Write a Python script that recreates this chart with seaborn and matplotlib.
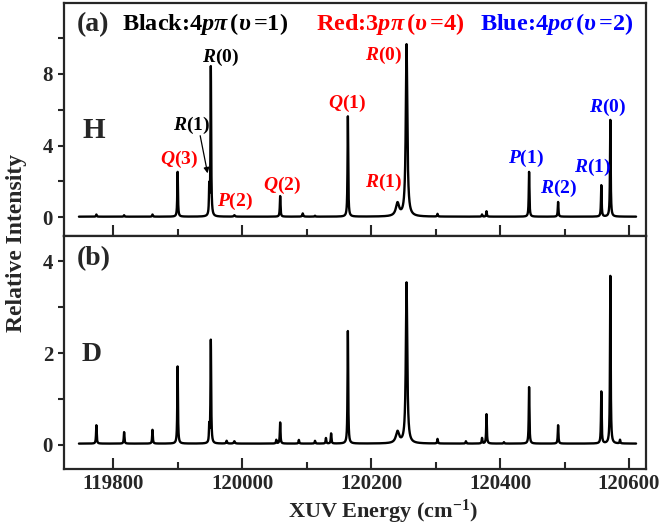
import numpy as np
import pandas as pd
import matplotlib
matplotlib.use("Agg")
import matplotlib.pyplot as plt
import seaborn as sns
from matplotlib.ticker import MultipleLocator

# ---------------- data ----------------
# peak centres (cm^-1), heights, half widths for panel (a) H
h_pos = [119774, 119817, 119861, 119900, 119949, 119951.5, 119988, 120059, 120094, 120113,
         120164, 120241, 120255, 120303, 120372, 120379, 120445, 120490, 120557, 120571]
h_amp = [0.12, 0.08, 0.12, 2.5, 1.5, 8.35, 0.08, 1.15, 0.18, 0.05,
         5.6, 0.72, 9.6, 0.15, 0.12, 0.3, 2.5, 0.82, 1.75, 5.4]
h_wid = [0.6, 0.6, 0.6, 0.6, 0.5, 0.6, 1.0, 0.6, 0.8, 0.6,
         0.6, 3.0, 1.4, 0.6, 0.6, 0.6, 0.6, 0.6, 0.6, 0.6]

# panel (b) D
d_pos = [119774, 119817, 119861, 119900, 119949, 119951.5, 119976, 119988, 120053, 120059,
         120088, 120113, 120130, 120138, 120164, 120241, 120255, 120303, 120347, 120372,
         120379, 120406, 120445, 120490, 120557, 120571, 120586]
d_amp = [0.4, 0.25, 0.3, 1.68, 0.35, 2.25, 0.06, 0.05, 0.08, 0.46,
         0.08, 0.06, 0.12, 0.22, 2.45, 0.25, 3.5, 0.1, 0.05, 0.12,
         0.64, 0.03, 1.23, 0.4, 1.13, 3.65, 0.08]
d_wid = [0.6, 0.6, 0.6, 0.6, 0.5, 0.6, 0.8, 1.0, 0.6, 0.6,
         0.6, 0.6, 0.6, 0.6, 0.6, 3.0, 1.3, 0.6, 0.6, 0.6,
         0.6, 0.6, 0.6, 0.6, 0.6, 0.6, 0.6]

baseline = 0.03
e_start, e_end = 119747, 120611

# peak labels: (text, x, y, colour)
h_labels = [
    (r"$Q$(3)", 119902, 3.2, "red"),
    (r"$R$(1)", 119921, 5.14, "black"),
    (r"$R$(0)", 119967, 8.94, "black"),
    (r"$P$(2)", 119989, 0.9, "red"),
    (r"$Q$(2)", 120062, 1.8, "red"),
    (r"$Q$(1)", 120163, 6.37, "red"),
    (r"$R$(0)", 120219, 9.05, "red"),
    (r"$R$(1)", 120219, 1.96, "red"),
    (r"$P$(1)", 120440, 3.3, "blue"),
    (r"$R$(2)", 120490, 1.62, "blue"),
    (r"$R$(1)", 120543, 2.8, "blue"),
    (r"$R$(0)", 120566, 6.15, "blue"),
]

# ---------------- style ----------------
sns.set_style("ticks")
plt.rcParams["font.family"] = ["Liberation Serif", "DejaVu Serif"]
plt.rcParams["font.weight"] = "bold"
plt.rcParams["axes.labelweight"] = "bold"
plt.rcParams["mathtext.fontset"] = "custom"
plt.rcParams["mathtext.rm"] = "Liberation Serif:bold"
plt.rcParams["mathtext.bf"] = "Liberation Serif:bold"
plt.rcParams["mathtext.it"] = "Liberation Serif:italic:bold"


def spectrum(pos, amp, wid):
    x = np.arange(e_start, e_end, 0.1)
    y = np.full_like(x, baseline)
    for p, a, w in zip(pos, amp, wid):
        y += a * w ** 2 / ((x - p) ** 2 + w ** 2)
    return pd.DataFrame({"E": x, "I": y})


df_h = spectrum(h_pos, h_amp, h_wid)
df_d = spectrum(d_pos, d_amp, d_wid)

fig, (ax1, ax2) = plt.subplots(2, 1, sharex=True, figsize=(6.61, 5.28), dpi=100)
fig.subplots_adjust(left=0.097, right=0.977, top=0.994, bottom=0.112, hspace=0)

sns.lineplot(data=df_h, x="E", y="I", ax=ax1, color="black", linewidth=1.7)
sns.lineplot(data=df_d, x="E", y="I", ax=ax2, color="black", linewidth=1.7)

ax1.set_xlim(119724, 120626)
ax1.set_ylim(-1.05, 11.95)
ax2.set_ylim(-0.52, 4.55)

ax1.yaxis.set_major_locator(MultipleLocator(4))
ax1.yaxis.set_minor_locator(MultipleLocator(2))
ax2.yaxis.set_major_locator(MultipleLocator(2))
ax2.yaxis.set_minor_locator(MultipleLocator(1))
ax2.xaxis.set_major_locator(MultipleLocator(200))
ax2.xaxis.set_minor_locator(MultipleLocator(100))

for ax in (ax1, ax2):
    for s in ax.spines.values():
        s.set_linewidth(1.6)
        s.set_visible(True)
    ax.tick_params(axis="x", which="major", direction="in", length=8, width=1.5,
                   labelsize=15, bottom=True, top=False, pad=4)
    ax.tick_params(axis="x", which="minor", direction="in", length=5, width=1.5,
                   bottom=True, top=False)
    ax.tick_params(axis="y", which="both", direction="out", length=4, width=1.5,
                   labelsize=15, left=True, right=False, pad=4)
    ax.set_ylabel("")
    ax.set_xlabel("")
    for lab in ax.get_xticklabels() + ax.get_yticklabels():
        lab.set_fontweight("bold")

fig.text(383 / 661, 1 - 512 / 528, r"XUV Energy (cm$^{\mathregular{-1}}$)", fontsize=16,
         fontweight="bold", ha="center", va="center")
fig.text(17 / 661, 1 - 243 / 528, "Relative Intensity", rotation=90, fontsize=17,
         fontweight="bold", ha="center", va="center")

# header texts
ax1.text(119743, 10.78, "(a)", fontsize=20, fontweight="bold", ha="left", va="center")
ax1.text(119813, 10.78, r"Black:4$p\pi\,$($\upsilon\,$=1)", fontsize=17.5, fontweight="bold",
         color="black", ha="left", va="center")
ax1.text(120115, 10.78, r"Red:3$p\pi\,$($\upsilon\,$=4)", fontsize=17.5, fontweight="bold",
         color="red", ha="left", va="center")
ax1.text(120369, 10.78, r"Blue:4$p\sigma\,$($\upsilon\,$=2)", fontsize=17.5, fontweight="bold",
         color="blue", ha="left", va="center")
ax1.text(119770, 4.86, "H", fontsize=21, fontweight="bold", ha="center", va="center")
ax2.text(119766, 1.98, "D", fontsize=20, fontweight="bold", ha="center", va="center")
ax2.text(119743, 4.05, "(b)", fontsize=20, fontweight="bold", ha="left", va="center")

for txt, x, y, c in h_labels:
    ax1.text(x, y, txt, fontsize=14, fontweight="bold", color=c, ha="center", va="center")

ax1.annotate("", xy=(119946.5, 2.45), xytext=(119935, 4.55),
             arrowprops=dict(arrowstyle="-|>", color="black", lw=0.9,
                             mutation_scale=8, shrinkA=0, shrinkB=0))

fig.savefig("out.png", dpi=100)
